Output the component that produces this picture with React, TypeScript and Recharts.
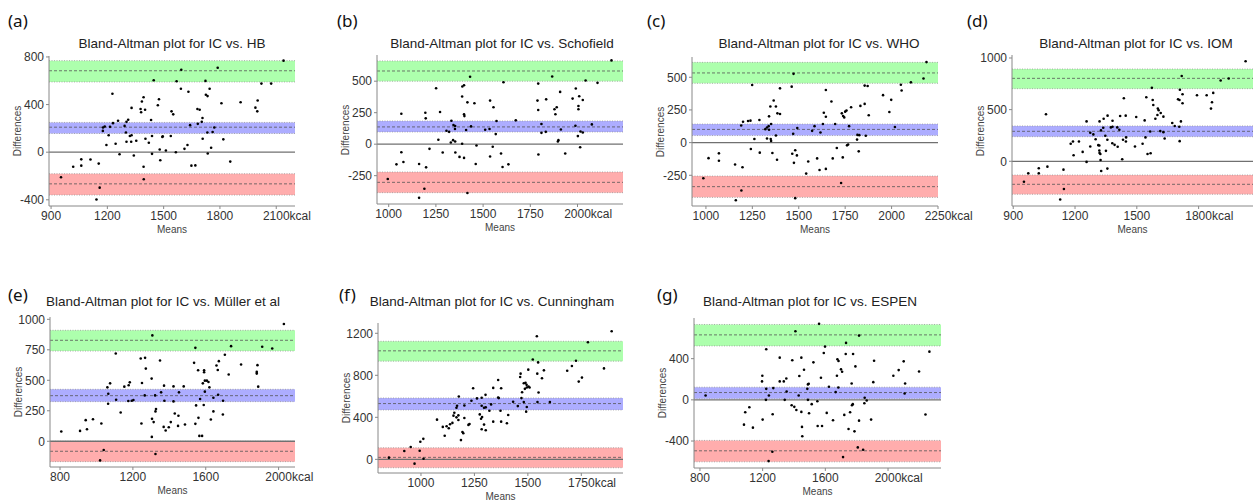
import { ScatterChart, Scatter, XAxis, YAxis, ReferenceArea, ReferenceLine } from "recharts";

const FONT = '"Liberation Sans", Arial, sans-serif';

// [mean, difference] pairs
const hbPoints = [
  [2139, 769], [1594, 692], [1788, 709], [1447, 604], [1569, 596], [1723, 599], [1592, 533], [1632, 508],
  [1745, 533], [2021, 576], [2073, 576], [1227, 491], [1475, 445], [1469, 394], [1393, 462], [1384, 426],
  [1725, 482], [1734, 471], [1808, 411], [1910, 420], [2001, 434], [1989, 374], [1999, 343], [1329, 372],
  [1377, 363], [1401, 357], [1380, 335], [1542, 343], [1551, 318], [1680, 363], [1692, 357], [1311, 272],
  [1433, 270], [1707, 287], [1703, 255], [1682, 238], [1641, 227], [1770, 207], [1761, 170], [1733, 165],
  [1257, 264], [1302, 255], [1292, 221], [1230, 244], [1177, 207], [1186, 216], [1214, 213], [1207, 142],
  [1329, 142], [1320, 136], [1327, 88], [1354, 96], [1403, 113], [1421, 79], [1438, 136], [1495, 133],
  [1538, 136], [1493, 128], [1299, 165], [1176, 179], [1302, 88], [1244, 71], [1195, 60], [1627, 60],
  [1611, 28], [1708, 113], [1818, 108], [1753, 37], [1479, 23], [1512, 14], [1565, 0], [1438, -14],
  [1265, -17], [1341, -28], [1735, -11], [1482, -68], [1648, -113], [1669, -111], [1855, -79], [1393, -122],
  [1110, -62], [1061, -60], [1061, -113], [1018, -122], [1154, -96], [953, -210], [1159, -298], [1142, -397],
  [1394, -227],
];
const hbUpper = [590, 684, 769];
const hbBias = [157, 210, 250];
const hbLower = [-360, -266, -181];
const hbXTicks = [900, 1200, 1500, 1800, 2100];
const hbYTicks = [-400, 0, 400, 800];

const schofieldPoints = [
  [2180, 665], [1431, 535], [1866, 537], [2043, 505], [2106, 487], [1608, 492], [1792, 481], [1251, 444],
  [1390, 458], [1399, 468], [1991, 442], [1908, 415], [1389, 378], [1834, 356], [1974, 362], [2028, 351],
  [2009, 380], [1788, 346], [1417, 332], [1537, 346], [1454, 325], [1555, 293], [2005, 303], [2005, 277],
  [1792, 271], [1878, 277], [1890, 293], [1883, 237], [1399, 237], [1401, 223], [1067, 242], [1196, 205],
  [1272, 255], [1673, 189], [1571, 184], [1194, 250], [1332, 186], [1343, 152], [1352, 144], [1436, 141],
  [1511, 114], [1534, 120], [1410, 112], [1351, 120], [1306, 106], [1320, 98], [1809, 90], [1832, 98],
  [1809, 160], [1567, 80], [2076, 157], [1989, 146], [2016, 101], [2028, 93], [2002, 64], [1912, 117],
  [1341, 32], [1352, 21], [1329, 13], [1263, 35], [1216, -37], [1286, -66], [1353, -66], [1375, -101],
  [1389, 3], [1465, -11], [1551, -21], [1595, -74], [1537, -98], [1399, -109], [1461, -157], [1603, -181],
  [1634, -160], [1793, -82], [1935, -74], [1896, 21], [1899, 32], [2014, -24], [1067, -64], [1078, -141],
  [1041, -160], [1161, -157], [1198, -184], [995, -277], [1189, -354], [1417, -388], [1161, -426],
];
const schofieldUpper = [500, 581, 661];
const schofieldBias = [97, 137, 184];
const schofieldLower = [-385, -303, -221];
const schofieldXTicks = [1000, 1250, 1500, 1750, 2000];
const schofieldYTicks = [-250, 0, 250, 500];

const whoPoints = [
  [2188, 616], [1472, 526], [2172, 490], [1249, 441], [1871, 433], [2104, 461], [2050, 443], [1399, 415],
  [1462, 428], [1646, 402], [1855, 436], [1954, 363], [2054, 399], [1365, 322], [1347, 276], [1377, 276],
  [1385, 224], [1399, 219], [1340, 201], [1832, 281], [1855, 296], [1998, 327], [1988, 234], [1782, 271],
  [1750, 237], [1732, 224], [1739, 204], [1745, 193], [1676, 314], [1757, 245], [1635, 229], [1646, 198],
  [1877, 209], [2018, 119], [1240, 168], [1200, 160], [1190, 131], [1227, 165], [1288, 173], [1329, 116],
  [1351, 142], [1338, 126], [1340, 98], [1320, 103], [1585, 126], [1630, 142], [1696, 142], [1771, 126],
  [1492, 111], [1470, 67], [1377, 54], [1572, 90], [1617, 77], [1816, 59], [1826, 57], [1861, 52],
  [1814, 23], [1329, 31], [1349, 28], [1351, 13], [1261, 28], [1705, -41], [1766, -15], [1760, -21],
  [1823, -67], [1242, -49], [1358, -80], [1290, -77], [1383, -131], [1481, -59], [1465, -85], [1490, -98],
  [1474, -155], [1599, -121], [1683, -121], [1737, -113], [1551, -144], [1612, -209], [1646, -201], [1540, -237],
  [1197, -188], [1157, -168], [1014, -119], [1070, -82], [1070, -139], [986, -273], [1191, -366], [1161, -441],
  [1481, -425], [1728, -309],
];
const whoUpper = [454, 533, 614];
const whoBias = [54, 101, 142];
const whoLower = [-419, -337, -256];
const whoXTicks = [1000, 1250, 1500, 1750, 2000, 2250];
const whoYTicks = [-250, 0, 250, 500];

const iomPoints = [
  [2028, 968], [1718, 825], [1907, 782], [1946, 802], [1573, 711], [1709, 692], [1722, 649], [1792, 640],
  [1839, 640], [1871, 662], [1700, 601], [1707, 594], [1577, 594], [1546, 620], [1437, 610], [1865, 571],
  [1722, 562], [1580, 545], [1860, 510], [1602, 510], [1606, 494], [1616, 468], [1600, 448], [1629, 432],
  [1590, 412], [1538, 396], [1446, 442], [1419, 438], [1497, 429], [1358, 442], [1059, 456], [1339, 412],
  [1382, 393], [1382, 334], [1374, 328], [1405, 328], [1415, 305], [1337, 325], [1347, 247], [1357, 208],
  [1319, 386], [1256, 386], [1714, 386], [1672, 370], [1684, 341], [1706, 334], [1614, 292], [1629, 282],
  [1565, 289], [1542, 231], [1528, 169], [1447, 192], [1448, 231], [1433, 208], [1381, 175], [1392, 159],
  [1407, 140], [1491, 143], [1552, 71], [1567, 78], [1708, 195], [1635, 221], [1326, 299], [1274, 276],
  [1289, 260], [1300, 214], [1313, 156], [1318, 153], [1350, 101], [1318, 104], [1319, 81], [1323, 71],
  [1324, 13], [1327, -94], [1357, -71], [1190, 192], [1179, 169], [1219, 192], [1193, 58], [1237, 91],
  [1274, 143], [1256, -6], [1429, 19], [1066, -52], [1024, -68], [1024, -117], [973, -117], [1144, -81],
  [1146, -269], [1128, -370], [952, -198],
];
const iomUpper = [703, 803, 893];
const iomBias = [238, 290, 342];
const iomLower = [-319, -223, -133];
const iomXTicks = [900, 1200, 1500, 1800];
const iomYTicks = [0, 500, 1000];

const mullerPoints = [
  [2029, 961], [1307, 868], [1739, 780], [1910, 775], [1543, 766], [1965, 761], [1106, 720], [1705, 709],
  [1243, 679], [1267, 684], [1349, 662], [1536, 643], [1659, 621], [1794, 629], [1884, 624], [1271, 596],
  [1591, 582], [1666, 585], [1558, 582], [1672, 657], [1726, 547], [1880, 569], [1880, 555], [1303, 514],
  [1075, 475], [1183, 483], [1177, 459], [1250, 478], [1591, 566], [1595, 497], [1606, 497], [1615, 486],
  [1584, 475], [1479, 450], [1371, 456], [1153, 448], [1060, 442], [1620, 442], [1888, 448], [1423, 450],
  [1453, 401], [1355, 401], [1595, 407], [1668, 382], [1065, 390], [1265, 376], [1322, 376], [1108, 341],
  [1175, 330], [1194, 332], [1203, 338], [1373, 332], [1423, 327], [1642, 357], [1695, 332], [1064, 308],
  [1569, 346], [1547, 294], [1589, 297], [1327, 264], [1324, 245], [1133, 236], [1430, 228], [1450, 209],
  [1642, 245], [1694, 220], [1560, 192], [1628, 179], [1247, 146], [1305, 184], [1314, 157], [1027, 146],
  [981, 181], [941, 173], [948, 99], [910, 85], [807, 80], [1369, 118], [1380, 88], [1408, 157],
  [1397, 115], [1448, 126], [1486, 137], [1543, 143], [1565, 44], [1580, 44], [1304, 36], [1040, -71],
  [1324, -104], [1020, -157],
];
const mullerUpper = [740, 828, 910];
const mullerBias = [325, 374, 426];
const mullerLower = [-167, -82, 0];
const mullerXTicks = [800, 1200, 1600, 2000];
const mullerYTicks = [0, 250, 500, 750, 1000];

const cunninghamPoints = [
  [1892, 1219], [1542, 1172], [1781, 1115], [1523, 951], [1725, 939], [1548, 923], [1856, 866], [1502, 854],
  [1575, 847], [1706, 888], [1684, 844], [1466, 816], [1464, 784], [1544, 816], [1566, 772], [1753, 778],
  [1738, 740], [1361, 756], [1489, 728], [1481, 724], [1494, 709], [1503, 693], [1495, 684], [1508, 684],
  [1486, 671], [1550, 636], [1375, 677], [1244, 677], [1338, 680], [1302, 614], [1177, 598], [1473, 639],
  [1470, 583], [1361, 589], [1364, 583], [1262, 580], [1284, 586], [1236, 558], [1481, 545], [1545, 545],
  [1603, 545], [1431, 548], [1453, 507], [1495, 498], [1492, 454], [1328, 523], [1169, 510], [1203, 513],
  [1284, 510], [1295, 491], [1275, 428], [1286, 403], [1303, 495], [1372, 463], [1408, 422], [1402, 343],
  [1338, 359], [1375, 359], [1281, 387], [1320, 463], [1166, 491], [1156, 444], [1152, 416], [1166, 400],
  [1147, 347], [1136, 334], [1175, 375], [1203, 394], [1227, 337], [1222, 328], [1175, 419], [1075, 378],
  [1102, 309], [1120, 315], [1130, 296], [1111, 224], [1194, 261], [1198, 249], [1187, 183], [1295, 331],
  [1303, 277], [1284, 287], [1011, 195], [997, 167], [952, 117], [922, 79], [994, 82], [1012, 6],
  [970, -41], [850, 16],
];
const cunninghamUpper = [935, 1033, 1124];
const cunninghamBias = [470, 531, 584];
const cunninghamLower = [-80, 19, 110];
const cunninghamXTicks = [1000, 1250, 1500, 1750];
const cunninghamYTicks = [0, 400, 800, 1200];

const espenPoints = [
  [1560, 738], [1409, 667], [1815, 624], [1732, 553], [1223, 491], [1598, 517], [1590, 455], [1730, 446],
  [1777, 446], [1309, 410], [1447, 410], [1389, 384], [1677, 394], [1684, 377], [1792, 325], [1524, 364],
  [1911, 380], [2100, 374], [2264, 468], [2068, 289], [2198, 276], [1464, 293], [1700, 296], [1707, 273],
  [1434, 231], [1572, 215], [1674, 234], [1198, 234], [1196, 179], [1351, 208], [1309, 179], [1335, 179],
  [1906, 172], [2034, 234], [1494, 156], [1489, 150], [1768, 159], [2109, 159], [2106, 62], [1223, 107],
  [1268, 114], [1485, 107], [1623, 127], [1683, 120], [1353, 81], [1666, 75], [836, 42], [1240, 42],
  [1430, 42], [1851, 20], [1864, -7], [1849, -33], [1775, -42], [1770, -52], [1221, 0], [1341, 0],
  [1489, 0], [1549, -13], [1513, -42], [1385, -52], [1402, -68], [1415, -98], [1496, -130], [1447, -117],
  [1264, -140], [1089, -120], [1115, -72], [1721, -146], [1758, -120], [1609, -127], [1649, -198], [1815, -202],
  [1892, -192], [2239, -143], [1200, -192], [1579, -254], [1551, -254], [1451, -263], [1081, -241], [1138, -270],
  [1748, -283], [1786, -306], [1453, -354], [1807, -462], [1841, -485], [1262, -504], [1713, -556], [1238, -595],
];
const espenUpper = [524, 631, 732];
const espenBias = [10, 71, 123];
const espenLower = [-602, -495, -394];
const espenXTicks = [800, 1200, 1600, 2000];
const espenYTicks = [-400, 0, 400];

// layout: plot box [left, top, right, bottom] in page pixels
const panels = [
  { label: "(a)", labelPos: [8, 11], title: "Bland-Altman plot for IC vs. HB", titlePos: [172, 44],
    points: hbPoints, upper: hbUpper, bias: hbBias, lower: hbLower, xTicks: hbXTicks, yTicks: hbYTicks,
    xDomain: [889, 2200], yDomain: [-452, 808], box: [49, 56, 295, 206] },
  { label: "(b)", labelPos: [337, 11], title: "Bland-Altman plot for IC vs. Schofield", titlePos: [502, 44],
    points: schofieldPoints, upper: schofieldUpper, bias: schofieldBias, lower: schofieldLower,
    xTicks: schofieldXTicks, yTicks: schofieldYTicks,
    xDomain: [938, 2241], yDomain: [-475, 708], box: [377, 55, 623, 204] },
  { label: "(c)", labelPos: [647, 11], title: "Bland-Altman plot for IC vs. WHO", titlePos: [819, 44],
    points: whoPoints, upper: whoUpper, bias: whoBias, lower: whoLower, xTicks: whoXTicks, yTicks: whoYTicks,
    xDomain: [925, 2250], yDomain: [-485, 655], box: [692, 57, 938, 206] },
  { label: "(d)", labelPos: [967, 11], title: "Bland-Altman plot for IC vs. IOM", titlePos: [1136, 44],
    points: iomPoints, upper: iomUpper, bias: iomBias, lower: iomLower, xTicks: iomXTicks, yTicks: iomYTicks,
    xDomain: [894, 2064], yDomain: [-433, 1029], box: [1012, 55, 1253, 206] },
  { label: "(e)", labelPos: [8, 285], title: "Bland-Altman plot for IC vs. Müller et al", titlePos: [163, 302],
    points: mullerPoints, upper: mullerUpper, bias: mullerBias, lower: mullerLower,
    xTicks: mullerXTicks, yTicks: mullerYTicks,
    xDomain: [745, 2090], yDomain: [-211, 1019], box: [50, 317, 295, 467] },
  { label: "(f)", labelPos: [339, 285], title: "Bland-Altman plot for IC vs. Cunningham", titlePos: [492, 302],
    points: cunninghamPoints, upper: cunninghamUpper, bias: cunninghamBias, lower: cunninghamLower,
    xTicks: cunninghamXTicks, yTicks: cunninghamYTicks,
    xDomain: [799, 1945], yDomain: [-130, 1298], box: [378, 323, 623, 473] },
  { label: "(g)", labelPos: [657, 285], title: "Bland-Altman plot for IC vs. ESPEN", titlePos: [810, 302],
    points: espenPoints, upper: espenUpper, bias: espenBias, lower: espenLower,
    xTicks: espenXTicks, yTicks: espenYTicks,
    xDomain: [762, 2338], yDomain: [-662, 795], box: [694, 318, 941, 468] },
];

const PAD_L = 50;
const PAD_T = 5;
const PAD_R = 45;
const X_H = 30;

const Dot = (props: any) => <circle cx={props.cx} cy={props.cy} r={1.3} fill="#000" />;

const makeXTick = (last: number) => (props: any) => {
  const { x, y, payload } = props;
  const v = payload.value;
  const common = { y, dy: "0.71em", fill: "#333", fontSize: 12, fontFamily: FONT };
  if (v === last) {
    // number centred on the tick, unit tacked on after it
    const w = String(v).length * 6.67;
    return <text {...common} x={x - w / 2} textAnchor="start">{`${v}kcal`}</text>;
  }
  return <text {...common} x={x} textAnchor="middle">{v}</text>;
};

const Panel = ({ p }: { p: any }) => {
  const [l, t, r, b] = p.box;
  const pw = r - l;
  const ph = b - t;
  const data = p.points.map(([x, y]: number[]) => ({ x, y }));
  const bands = [
    { v: p.upper, fill: "#adffad" },
    { v: p.bias, fill: "#adadff" },
    { v: p.lower, fill: "#ffadad" },
  ];
  const cx = (l + r) / 2;
  const cy = (t + b) / 2;
  return (
    <>
      <div style={{ position: "absolute", left: p.labelPos[0], top: p.labelPos[1], fontFamily: '"Noto Sans", sans-serif',
        fontSize: 17, lineHeight: "20px", color: "#111" }}>{p.label}</div>
      <div style={{ position: "absolute", left: p.titlePos[0] - 160, top: p.titlePos[1] - 9, width: 320, textAlign: "center",
        fontFamily: FONT, fontSize: 13.5, lineHeight: "18px", color: "#222", whiteSpace: "nowrap" }}>{p.title}</div>
      <div style={{ position: "absolute", left: l - 31 - 40, top: cy - 7, width: 80, height: 14, textAlign: "center",
        transform: "rotate(-90deg)", fontFamily: FONT, fontSize: 10, lineHeight: "14px", color: "#444" }}>Differences</div>
      <div style={{ position: "absolute", left: cx - 40, top: b + 24 - 7, width: 80, textAlign: "center",
        fontFamily: FONT, fontSize: 10, lineHeight: "14px", color: "#444" }}>Means</div>
      <div style={{ position: "absolute", left: l - PAD_L, top: t - PAD_T }}>
        <ScatterChart width={pw + PAD_L + PAD_R} height={ph + PAD_T + X_H}
          margin={{ top: PAD_T, right: PAD_R, bottom: 0, left: PAD_L - 40 }}>
          <XAxis type="number" dataKey="x" domain={p.xDomain} ticks={p.xTicks} allowDataOverflow interval={0}
            height={X_H} tickSize={3} tickMargin={2} axisLine={{ stroke: "#888" }} tickLine={{ stroke: "#888" }}
            tick={makeXTick(p.xTicks[p.xTicks.length - 1])} />
          <YAxis type="number" dataKey="y" domain={p.yDomain} ticks={p.yTicks} allowDataOverflow interval={0}
            width={40} tickSize={3} tickMargin={2} axisLine={{ stroke: "#888" }} tickLine={{ stroke: "#888" }}
            tick={{ fill: "#333", fontSize: 12, fontFamily: FONT }} />
          {bands.map((bd, i) => (
            <ReferenceArea key={`a${i}`} y1={bd.v[0]} y2={bd.v[2]} fill={bd.fill} fillOpacity={1} stroke="none"
              ifOverflow="hidden" />
          ))}
          {bands.map((bd, i) => (
            <ReferenceLine key={`lo${i}`} y={bd.v[0]} stroke="#9a9a9a" strokeWidth={0.8} strokeDasharray="1 1.5" />
          ))}
          {bands.map((bd, i) => (
            <ReferenceLine key={`hi${i}`} y={bd.v[2]} stroke="#9a9a9a" strokeWidth={0.8} strokeDasharray="1 1.5" />
          ))}
          <ReferenceLine y={0} stroke="#707070" strokeWidth={1.3} />
          {bands.map((bd, i) => (
            <ReferenceLine key={`m${i}`} y={bd.v[1]} stroke="#555" strokeWidth={0.8} strokeDasharray="3 2" />
          ))}
          <Scatter data={data} shape={Dot} isAnimationActive={false} />
        </ScatterChart>
      </div>
    </>
  );
};

export default function App() {
  return (
    <div style={{ position: "absolute", left: 0, top: 0, width: 1253, height: 501, background: "#fff", overflow: "hidden" }}>
      {panels.map((p) => (
        <Panel key={p.label} p={p} />
      ))}
    </div>
  );
}
